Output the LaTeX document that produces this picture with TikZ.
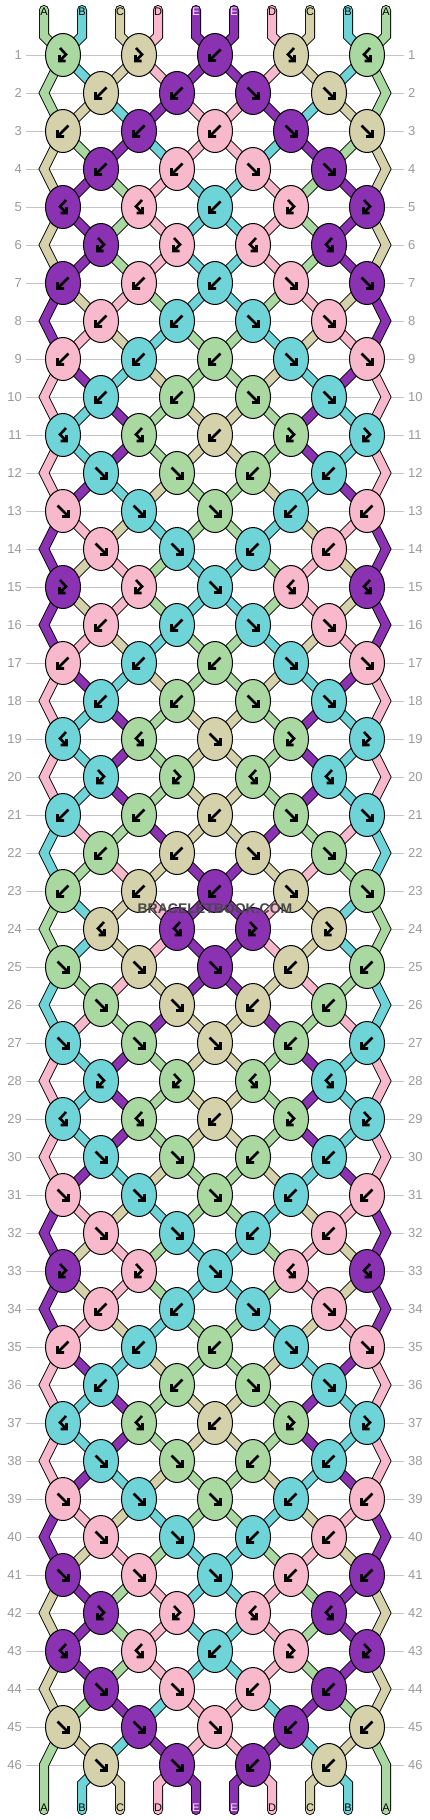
\documentclass[tikz,border=0pt]{standalone}
\usepackage{fontspec}
\setmainfont{Liberation Sans}
\usetikzlibrary{shapes.geometric}
\definecolor{cG}{HTML}{A9D8A0}
\definecolor{cC}{HTML}{6FD4D8}
\definecolor{cT}{HTML}{D5D2AB}
\definecolor{cP}{HTML}{F8B9CC}
\definecolor{cV}{HTML}{8B32B2}
\definecolor{rowgray}{HTML}{C4C4C4}
\definecolor{lblgray}{HTML}{9A9A9A}
\newcommand\seg[5]{%
  \draw[strand=#1] (#2,#3) -- (#4,#5);
  \draw[strand=#1] (430-#2,#3) -- (430-#4,#5);}
\newcommand\glyph[2]{%
  \ifcase#1\relax\or
    \draw[#2] (-5.5,-5.5)--(5.5,5.5) (5.5,-1)--(5.5,5.5)--(-1,5.5);
  \or
    \draw[#2] (5.5,-5.5)--(-5.5,5.5) (-5.5,-1)--(-5.5,5.5)--(1,5.5);
  \or
    \draw[#2] (-3,-7)--(3,-0.5)--(-3.5,6) (-3.5,0)--(-3.5,6)--(2.5,6);
  \or
    \draw[#2] (3,-7)--(-3,-0.5)--(3.5,6) (3.5,0)--(3.5,6)--(-2.5,6);
  \fi}
\newcommand\drawglyph[2]{%
  \def\tmpcol{#2}\def\purplecol{V}%
  \ifx\tmpcol\purplecol
    \glyph{#1}{gout}\glyph{#1}{gwhite}%
  \else
    \glyph{#1}{gblack}%
  \fi}
\begin{document}
\begin{tikzpicture}[x=1pt,y=-1pt,
  strand/.style={draw=black, line width=0.9pt, double distance=8.2pt, double=#1, line join=miter},
  knot/.style={ellipse, draw=black, line width=1pt, fill=#1, minimum width=35pt, minimum height=43pt, inner sep=0pt},
  rowline/.style={draw=rowgray, line width=0.8pt},
  lbl/.style={text=lblgray, font=\fontsize{13}{13}\selectfont, inner sep=0pt},
  tag/.style={font=\fontsize{11}{11}\selectfont, inner sep=0pt},
  gblack/.style={draw=black, line width=2.6pt, line join=miter},
  gout/.style={draw=black, line width=3.6pt, line join=miter},
  gwhite/.style={draw=white, line width=2.2pt, line join=miter},
]
\useasboundingbox (0,0) rectangle (430,1820);
\fill[white] (0,0) rectangle (430,1820);
% row lines and labels
\foreach \r in {1,...,46} {
  \pgfmathsetmacro\ry{55+38*(\r-1)}
  \draw[rowline] (26,\ry) -- (404,\ry);
  \node[lbl,anchor=east] (L\r) at (22,\ry) {\r};
  \node[lbl,anchor=west] (R\r) at (408,\ry) {\r};
}
% top strands
\foreach \xa/\xb/\cc in {44/63/cG, 82/63/cC, 120/139/cT, 158/139/cP, 196/215/cV} {
  \draw[strand=\cc, line cap=round] (\xa,10) -- (\xa,36) -- (\xb,55);
  \draw[strand=\cc, line cap=round] (430-\xa,10) -- (430-\xa,36) -- (430-\xb,55);
}
% bottom strands
\foreach \xa/\xb/\cc in {101/82/cC, 101/120/cT, 177/158/cP, 177/196/cV} {
  \draw[strand=\cc, line cap=round] (\xa,1765) -- (\xb,1784) -- (\xb,1810);
  \draw[strand=\cc, line cap=round] (430-\xa,1765) -- (430-\xb,1784) -- (430-\xb,1810);
}
% edge zigzags
\foreach \r/\cc in {1/cG,3/cT,5/cT,7/cV,9/cP,11/cP,13/cV,15/cV,17/cP,19/cP,21/cC,23/cG,25/cC,27/cP,29/cP,31/cV,33/cV,35/cP,37/cP,39/cV,41/cT,43/cT} {
  \pgfmathsetmacro\ya{55+38*(\r-1)}
  \pgfmathsetmacro\yb{\ya+38}
  \pgfmathsetmacro\yc{\ya+76}
  \draw[strand=\cc] (63,\ya) -- (44,\yb) -- (63,\yc);
  \draw[strand=\cc] (367,\ya) -- (386,\yb) -- (367,\yc);
}
\draw[strand=cG, line cap=round] (63,1727) -- (44,1765) -- (44,1810);
\draw[strand=cG, line cap=round] (367,1727) -- (386,1765) -- (386,1810);
% inner strands
\foreach \r/\qa/\qb/\qc/\qd in {
1/cC/cT/cP/cV, 2/cT/cC/cV/cP, 3/cG/cV/cC/cP, 4/cV/cG/cP/cC, 5/cV/cG/cP/cC,
6/cV/cG/cP/cC, 7/cT/cP/cG/cC, 8/cP/cT/cC/cG, 9/cV/cC/cT/cG, 10/cC/cV/cG/cT,
11/cC/cV/cG/cT, 12/cV/cC/cT/cG, 13/cP/cT/cC/cG, 14/cT/cP/cG/cC, 15/cT/cP/cG/cC,
16/cP/cT/cC/cG, 17/cV/cC/cT/cG, 18/cC/cV/cG/cT, 19/cC/cV/cG/cT, 20/cC/cV/cG/cT,
21/cP/cG/cV/cT, 22/cG/cP/cT/cV, 23/cC/cT/cP/cV, 24/cC/cT/cP/cV, 25/cG/cP/cT/cV,
26/cP/cG/cV/cT, 27/cC/cV/cG/cT, 28/cC/cV/cG/cT, 29/cC/cV/cG/cT, 30/cV/cC/cT/cG,
31/cP/cT/cC/cG, 32/cT/cP/cG/cC, 33/cT/cP/cG/cC, 34/cP/cT/cC/cG, 35/cV/cC/cT/cG,
36/cC/cV/cG/cT, 37/cC/cV/cG/cT, 38/cV/cC/cT/cG, 39/cP/cT/cC/cG, 40/cT/cP/cG/cC,
41/cV/cG/cP/cC, 42/cV/cG/cP/cC, 43/cV/cG/cP/cC, 44/cG/cV/cC/cP, 45/cT/cC/cV/cP} {
  \pgfmathsetmacro\ya{55+38*(\r-1)}
  \pgfmathsetmacro\yb{\ya+38}
  \ifodd\r
    \seg{\qa}{63}{\ya}{101}{\yb}
    \seg{\qb}{139}{\ya}{101}{\yb}
    \seg{\qc}{139}{\ya}{177}{\yb}
    \seg{\qd}{215}{\ya}{177}{\yb}
  \else
    \seg{\qa}{101}{\ya}{63}{\yb}
    \seg{\qb}{101}{\ya}{139}{\yb}
    \seg{\qc}{177}{\ya}{139}{\yb}
    \seg{\qd}{177}{\ya}{215}{\yb}
  \fi
}
% knots
\foreach \r/\k/\t/\col in {
1/1/3/G, 1/2/3/T, 1/3/2/V, 2/1/2/T, 2/2/2/V,
3/1/2/T, 3/2/2/V, 3/3/2/P, 4/1/2/V, 4/2/2/P,
5/1/4/V, 5/2/4/P, 5/3/2/C, 6/1/3/V, 6/2/3/P,
7/1/2/V, 7/2/2/P, 7/3/2/C, 8/1/2/P, 8/2/2/C,
9/1/2/P, 9/2/2/C, 9/3/2/G, 10/1/2/C, 10/2/2/G,
11/1/4/C, 11/2/4/G, 11/3/2/T, 12/1/1/C, 12/2/1/G,
13/1/1/P, 13/2/1/C, 13/3/1/G, 14/1/1/P, 14/2/1/C,
15/1/3/V, 15/2/3/P, 15/3/1/C, 16/1/2/P, 16/2/2/C,
17/1/2/P, 17/2/2/C, 17/3/2/G, 18/1/2/C, 18/2/2/G,
19/1/4/C, 19/2/4/G, 19/3/1/T, 20/1/3/C, 20/2/3/G,
21/1/2/C, 21/2/2/G, 21/3/2/T, 22/1/2/G, 22/2/2/T,
23/1/2/G, 23/2/2/T, 23/3/2/V, 24/1/4/T, 24/2/4/V,
25/1/1/G, 25/2/1/T, 25/3/1/V, 26/1/1/G, 26/2/1/T,
27/1/1/C, 27/2/1/G, 27/3/1/T, 28/1/3/C, 28/2/3/G,
29/1/4/C, 29/2/4/G, 29/3/2/T, 30/1/1/C, 30/2/1/G,
31/1/1/P, 31/2/1/C, 31/3/1/G, 32/1/1/P, 32/2/1/C,
33/1/3/V, 33/2/3/P, 33/3/1/C, 34/1/2/P, 34/2/2/C,
35/1/2/P, 35/2/2/C, 35/3/2/G, 36/1/2/C, 36/2/2/G,
37/1/4/C, 37/2/4/G, 37/3/2/T, 38/1/1/C, 38/2/1/G,
39/1/1/P, 39/2/1/C, 39/3/1/G, 40/1/1/P, 40/2/1/C,
41/1/1/V, 41/2/1/P, 41/3/1/C, 42/1/3/V, 42/2/3/P,
43/1/4/V, 43/2/4/P, 43/3/2/C, 44/1/1/V, 44/2/1/P,
45/1/1/T, 45/2/1/V, 45/3/1/P, 46/1/1/T, 46/2/1/V} {
  \pgfmathsetmacro\ky{55+38*(\r-1)}
  \pgfmathsetmacro\kx{mod(\r,2)==1 ? 63+76*(\k-1) : 101+76*(\k-1)}
  \pgfmathsetmacro\kxm{430-\kx}
  \pgfmathtruncatemacro\mt{\t==1 ? 2 : (\t==2 ? 1 : (\t==3 ? 4 : 3))}
  \node[knot=c\col] (kL\r-\k) at (\kx,\ky) {};
  \begin{scope}[shift={(\kx,\ky)}]
    \drawglyph{\t}{\col}
  \end{scope}
  \ifnum\k<3
    \node[knot=c\col] (kR\r-\k) at (\kxm,\ky) {};
    \begin{scope}[shift={(\kxm,\ky)}]
      \drawglyph{\mt}{\col}
    \end{scope}
  \fi
}
% string letters
\foreach \xx/\LL/\tc in {44/A/black, 82/B/black, 120/C/black, 158/D/black, 196/E/white, 234/E/white, 272/D/black, 310/C/black, 348/B/black, 386/A/black} {
  \node[tag, text=\tc] (top\xx) at (\xx,12) {\LL};
  \node[tag, text=\tc] (bot\xx) at (\xx,1808) {\LL};
}
% watermark
\node[font=\bfseries\fontsize{14}{14}\selectfont, text=black!72, inner sep=0pt] (wm) at (215,909) {BRACELETBOOK.COM};
\end{tikzpicture}
\end{document}
